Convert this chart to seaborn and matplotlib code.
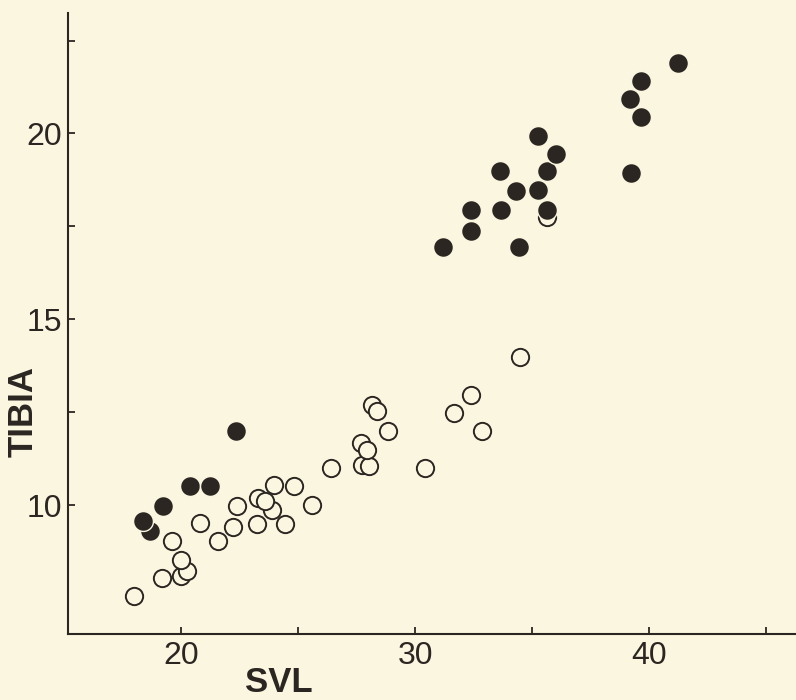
import numpy as np
import pandas as pd
import matplotlib
matplotlib.use("Agg")
import matplotlib.pyplot as plt
import seaborn as sns

# open circles (listed back to front)
open_svl = [17.99, 19.17, 19.97, 20.26, 19.97, 19.6, 20.81, 21.59, 22.22, 22.39,
            23.23, 24.42, 23.3, 23.87, 23.6, 23.96, 24.83, 25.59, 26.42,
            27.73, 28.02, 27.70, 27.94, 28.16, 28.38, 28.84,
            30.42, 31.65, 32.84, 32.4, 34.46, 35.62]
open_tibia = [7.54, 8.04, 8.08, 8.22, 8.51, 9.02, 9.53, 9.02, 9.40, 9.98,
              9.50, 9.50, 10.2, 9.87, 10.1, 10.55, 10.52, 10.01, 11.0,
              11.08, 11.04, 11.67, 11.49, 12.70, 12.52, 11.98,
              11.0, 12.47, 12.0, 12.97, 13.98, 17.75]

# filled circles (listed back to front)
filled_svl = [18.67, 18.38, 19.22, 20.38, 21.25, 22.36,
              31.20, 34.45, 32.40, 32.38, 33.67, 35.62, 34.33, 35.26,
              33.64, 35.64, 35.23, 36.03,
              39.23, 39.64, 39.16, 39.64, 41.23]
filled_tibia = [9.31, 9.58, 9.98, 10.52, 10.52, 12.0,
                16.95, 16.94, 17.37, 17.95, 17.95, 17.94, 18.46, 18.48,
                18.99, 18.98, 19.94, 19.45,
                18.93, 20.44, 20.94, 21.41, 21.9]

bg = "#fbf6e0"
ink = "#2b2621"

sns.set_style("ticks")
plt.rcParams['font.family'] = ['Liberation Sans', 'DejaVu Sans']

fig = plt.figure(figsize=(7.96, 7.0), dpi=100, facecolor=bg)
ax = fig.add_axes([0.0854, 0.0943, 0.93, 0.887])
ax.set_facecolor(bg)

open_df = pd.DataFrame({"SVL": open_svl, "TIBIA": open_tibia})
filled_df = pd.DataFrame({"SVL": filled_svl, "TIBIA": filled_tibia})

sns.scatterplot(data=open_df, x="SVL", y="TIBIA", ax=ax, s=155,
                facecolor=bg, edgecolor=ink, linewidth=1.4, zorder=3)
sns.scatterplot(data=filled_df, x="SVL", y="TIBIA", ax=ax, s=205,
                color=ink, edgecolor=bg, linewidth=1.0, zorder=4)

ax.set_xlim(15.16, 46.8)
ax.set_ylim(6.53, 23.24)

ax.set_xticks([20, 30, 40])
ax.set_xticks([25, 35, 45], minor=True)
ax.set_yticks([10, 15, 20])
ax.set_yticks([12.5, 17.5, 22.5], minor=True)

ax.tick_params(which="both", direction="in", length=5, width=1.3, color=ink,
               labelsize=23, labelcolor=ink)
ax.tick_params(axis="x", pad=5)
ax.tick_params(axis="y", pad=4)

sns.despine(ax=ax)
for side in ["left", "bottom"]:
    ax.spines[side].set_color(ink)
    ax.spines[side].set_linewidth(1.5)

ax.set_xlabel("")
ax.set_ylabel("")
fig.text(279 / 796, 1 / 700, "SVL", fontsize=25, fontweight="bold",
         color=ink, ha="center", va="bottom")
fig.text(23 / 796, 1 - 411 / 700, "TIBIA", fontsize=25, fontweight="bold",
         color=ink, ha="center", va="center", rotation=90)

fig.savefig("out.png", dpi=100, facecolor=bg)
